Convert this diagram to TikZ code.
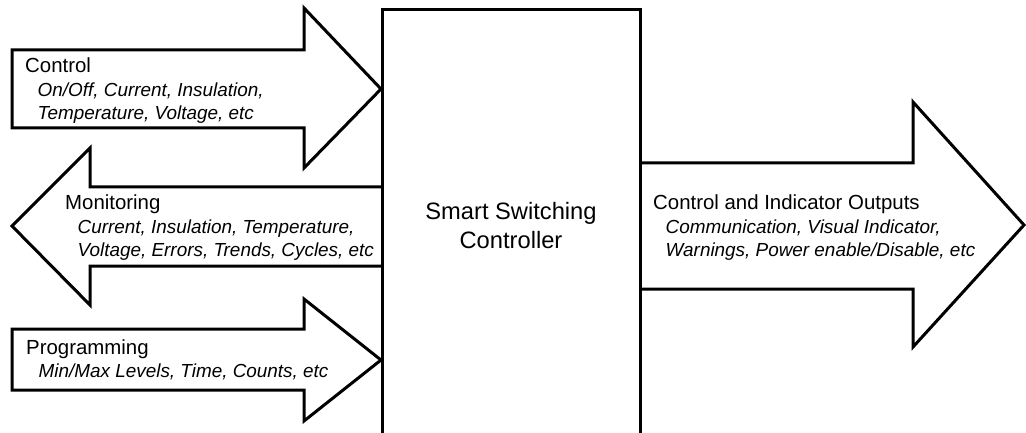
\documentclass[tikz,border=0pt]{standalone}
\usepackage{fontspec}
\setmainfont{Liberation Sans}
\usetikzlibrary{positioning}

\newcommand{\detail}[1]{\hspace*{12.5pt}{\fontsize{18.9}{23.5}\selectfont\itshape #1}}

\begin{document}
\begin{tikzpicture}[x=1pt, y=-1pt,
    outline/.style={draw, line width=3pt, line join=miter, fill=white},
    lbl/.style={inner sep=0pt, anchor=west, align=left,
                font=\fontsize{20.4}{23.5}\selectfont},
    core/.style={inner sep=0pt, align=center,
                 font=\fontsize{23.7}{29}\selectfont}
  ]
  \useasboundingbox (0,0) rectangle (1026,433);

  % inputs and feedback
  \draw[outline] (12,50) -- (304,50) -- (304,8) -- (381,89) -- (304,168) -- (304,128) -- (12,128) -- cycle;
  \draw[outline] (381,187) -- (90,187) -- (90,148) -- (12,226) -- (90,305) -- (90,266) -- (381,266);
  \draw[outline] (12,329) -- (304,329) -- (304,299) -- (381,360) -- (304,421) -- (304,390) -- (12,390) -- cycle;

  % outputs
  \draw[outline] (640,163) -- (913,163) -- (913,102) -- (1024,225) -- (913,347) -- (913,289) -- (640,289);

  % controller block (open at the bottom)
  \draw[line width=3pt, line join=miter] (382,445) -- (382,10) -- (640,10) -- (640,445);
  \node[core] (ctrl) at (511,226) {Smart Switching\\Controller};

  \node[lbl] (control) at (25,91) {Control\\
    \detail{On/Off, Current, Insulation,}\\
    \detail{Temperature, Voltage, etc}};
  \node[lbl] (monitor) at (65,228) {Monitoring\\
    \detail{Current, Insulation, Temperature,}\\
    \detail{Voltage, Errors, Trends, Cycles, etc}};
  \node[lbl] (program) at (26,360) {Programming\\
    \detail{Min/Max Levels, Time, Counts, etc}};
  \node[lbl] (outputs) at (653,228) {Control and Indicator Outputs\\
    \detail{Communication, Visual Indicator,}\\
    \detail{Warnings, Power enable/Disable, etc}};
\end{tikzpicture}
\end{document}
